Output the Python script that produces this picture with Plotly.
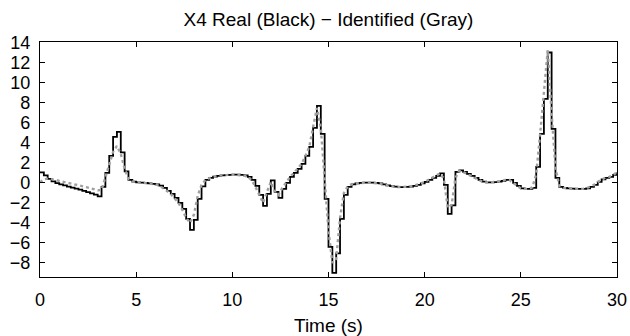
import plotly.graph_objects as go

# sample times (s), 0.2 s sampling
time_s = [round(0.2 * k, 1) for k in range(151)]

# Real X4 (black, zero-order hold)
real_x4 = [
    1.05, 0.75, 0.4, 0.15, -0.02, -0.15, -0.25, -0.37, -0.47, -0.57,      # 0.0 - 1.8
    -0.68, -0.8, -0.93, -1.06, -1.18, -1.35, -0.4, 1.0, 2.7, 4.6,        # 2.0 - 3.8
    5.1, 3.05, 1.15, 0.3, 0.12, 0.05, 0.02, 0.0, -0.05, -0.1,            # 4.0 - 5.8
    -0.15, -0.28, -0.5, -0.8, -1.1, -1.5, -2.0, -2.6, -3.6, -4.7,        # 6.0 - 7.8
    -3.7, -1.6, -0.35, 0.3, 0.5, 0.62, 0.7, 0.75, 0.78, 0.8,             # 8.0 - 9.8
    0.82, 0.82, 0.8, 0.75, 0.6, 0.3, -0.3, -1.2, -2.3, -1.1,             # 10.0 - 11.8
    0.25, -0.9, -1.5, -0.6, 0.0, 0.6, 1.0, 1.4, 1.9, 2.7,                # 12.0 - 13.8
    3.6, 5.5, 7.7, 4.9, -1.6, -6.4, -9.0, -7.05, -3.6, -1.2,             # 14.0 - 15.8
    -0.4, -0.15, -0.05, 0.0, 0.02, 0.03, 0.02, 0.0, -0.05, -0.15,        # 16.0 - 17.8
    -0.25, -0.32, -0.38, -0.42, -0.42, -0.4, -0.38, -0.3, -0.2, -0.05,   # 18.0 - 19.8
    0.1, 0.3, 0.5, 0.7, 0.95, -0.2, -3.1, -2.25, 1.1, 1.25,              # 20.0 - 21.8
    1.1, 0.9, 0.7, 0.5, 0.3, 0.12, 0.05, 0.05, 0.08, 0.12,               # 22.0 - 23.8
    0.2, 0.3, 0.3, 0.0, -0.3, -0.55, -0.6, -0.6, -0.5, 1.6,              # 24.0 - 25.8
    4.9, 8.4, 13.05, 5.4, 0.5, -0.4, -0.5, -0.55, -0.58, -0.6,           # 26.0 - 27.8
    -0.6, -0.6, -0.55, -0.4, -0.2, 0.1, 0.35, 0.5, 0.6, 0.8,             # 28.0 - 29.8
    1.05,                                                                 # 30.0
]

# Identified X4 (gray, dotted)
ident_x4 = [
    0.05, 0.35, 0.42, 0.38, 0.3, 0.2, 0.12, 0.05, -0.03, -0.12,          # 0.0 - 1.8
    -0.22, -0.32, -0.42, -0.52, -0.62, -0.75, -0.7, 0.6, 2.0, 3.1,       # 2.0 - 3.8
    3.7, 2.9, 1.4, 0.4, 0.15, 0.05, 0.02, 0.0, -0.05, -0.1,              # 4.0 - 5.8
    -0.15, -0.28, -0.5, -0.8, -1.1, -1.5, -2.0, -2.7, -3.5, -4.0,        # 6.0 - 7.8
    -3.2, -1.3, -0.2, 0.3, 0.5, 0.62, 0.7, 0.75, 0.78, 0.8,              # 8.0 - 9.8
    0.82, 0.82, 0.8, 0.75, 0.6, 0.3, -0.4, -1.2, -2.0, -0.9,             # 10.0 - 11.8
    0.1, -0.8, -1.2, -0.5, 0.05, 0.6, 1.0, 1.4, 1.9, 2.7,                # 12.0 - 13.8
    3.6, 5.6, 7.5, 5.5, 0.5, -4.8, -8.0, -7.6, -3.5, -1.0,               # 14.0 - 15.8
    -0.35, -0.15, -0.05, 0.0, 0.02, 0.03, 0.02, 0.0, -0.05, -0.15,       # 16.0 - 17.8
    -0.25, -0.32, -0.38, -0.42, -0.42, -0.4, -0.38, -0.3, -0.2, -0.05,   # 18.0 - 19.8
    0.1, 0.3, 0.5, 0.7, 0.95, 0.4, -2.5, -2.2, 0.5, 1.2,                 # 20.0 - 21.8
    1.1, 0.9, 0.7, 0.5, 0.3, 0.12, 0.05, 0.05, 0.08, 0.12,               # 22.0 - 23.8
    0.2, 0.3, 0.3, 0.0, -0.3, -0.55, -0.6, -0.6, -0.45, 0.9,             # 24.0 - 25.8
    4.8, 8.8, 13.3, 7.0, 1.5, -0.3, -0.5, -0.55, -0.58, -0.6,            # 26.0 - 27.8
    -0.6, -0.6, -0.55, -0.4, -0.2, 0.1, 0.35, 0.5, 0.6, 0.8,             # 28.0 - 29.8
    1.05,                                                                 # 30.0
]

x_ticks = [0, 5, 10, 15, 20, 25, 30]
y_ticks = [-8, -6, -4, -2, 0, 2, 4, 6, 8, 10, 12, 14]

title_text = "X4 Real (Black) \u2212 Identified (Gray)"
x_label = "Time (s)"

fig = go.Figure()
fig.add_trace(go.Scatter(
    x=time_s, y=real_x4, mode="lines", line_shape="hv",
    line=dict(color="black", width=1.8), showlegend=False,
))
fig.add_trace(go.Scatter(
    x=time_s, y=ident_x4, mode="lines",
    line=dict(color="#a0a0a0", width=2.4, dash="dot"), showlegend=False,
))

font_family = "Liberation Sans, Arial, sans-serif"
plot_top, plot_bottom = 42, 277

fig.update_layout(
    width=630, height=336,
    margin=dict(l=40, r=13, t=plot_top, b=336 - plot_bottom),
    paper_bgcolor="white", plot_bgcolor="white",
    font=dict(family=font_family, size=18, color="black"),
    title=dict(text=title_text, x=0.5 * (40 + 617) / 630, xanchor="center",
               y=(336 - 19) / 336, yanchor="middle", yref="container",
               font=dict(size=19, color="black")),
    annotations=[dict(
        text=x_label, xref="paper", yref="paper", x=0.5,
        y=(plot_bottom - 325) / (plot_bottom - plot_top),
        xanchor="center", yanchor="middle", showarrow=False,
        font=dict(size=19, color="black"),
    )],
)
fig.update_xaxes(
    range=[0, 30], tickvals=x_ticks, ticktext=[str(v) for v in x_ticks],
    ticks="inside", ticklen=5, tickcolor="black", tickwidth=1,
    showline=True, linecolor="black", linewidth=1.2, mirror="allticks",
    showgrid=False, zeroline=False, ticklabelstandoff=6,
    tickfont=dict(size=18), automargin=False,
)
fig.update_yaxes(
    range=[-9.42, 14.1], tickvals=y_ticks, ticktext=[str(v).replace("-", "\u2212") for v in y_ticks],
    ticks="inside", ticklen=5, tickcolor="black", tickwidth=1,
    showline=True, linecolor="black", linewidth=1.2, mirror="allticks",
    showgrid=False, zeroline=False, ticklabelstandoff=5,
    tickfont=dict(size=18), automargin=False,
)

fig.write_html("out.html")
